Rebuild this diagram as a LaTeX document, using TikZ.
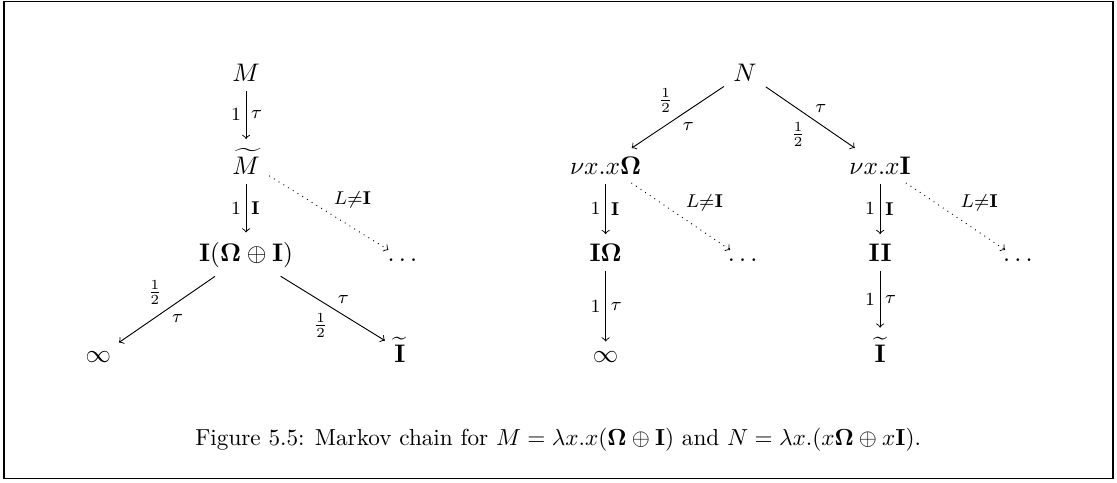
\documentclass[tikz,border=0pt]{standalone}
\usepackage{amsmath,amssymb}
\begin{document}
\begin{tikzpicture}[
    font=\fontsize{10.95}{13.6}\selectfont,
    state/.style={anchor=base, inner sep=3pt},
    lab/.style={inner sep=2pt, execute at begin node=$\scriptstyle, execute at end node=$},
    arr/.style={->, shorten >=1pt, shorten <=1pt},
    dotarr/.style={->, dotted, shorten >=1pt, shorten <=1pt},
    captext/.style={anchor=base, font=\fontsize{10}{12}\selectfont},
]
    \useasboundingbox (0,0) rectangle (16.93,7.31);
    \draw[line width=0.6pt] (0.06,0.06) rectangle (16.87,7.29);

    % ============= chain of M =============
    \node[state] (M) at (3.73, 6.08) {$M$};
    \node[state] (Mt) at (3.73, 4.67) {$\widetilde{M}$};
    \node[state] (ioi) at (3.73, 3.35) {$\mathbf{I}(\mathbf{\Omega}\oplus\mathbf{I})$};
    \node[state] (dotsM) at (6.13, 3.35) {$\dots$};
    \node[state] (infM) at (1.49, 1.82) {$\infty$};
    \node[state] (itM) at (6.06, 1.82) {$\widetilde{\mathbf{I}}$};
    \draw[arr] (M) -- node[lab, left] {1} node[lab, right] {\tau} (Mt);
    \draw[arr] (Mt) -- node[lab, left] {1} node[lab, right] {\mathbf{I}} (ioi);
    \draw[dotarr] (Mt) -- node[lab, above right] {L\neq\mathbf{I}} (dotsM);
    \draw[arr] (ioi) -- node[lab, above left] {\frac{1}{2}} node[lab, below right] {\tau} (infM);
    \draw[arr] (ioi) -- node[lab, above right] {\tau} node[lab, below left] {\frac{1}{2}} (itM);

    % ============= chain of N =============
    \node[state] (N) at (11.29, 6.08) {$N$};
    \node[state] (nuO) at (9.18, 4.67) {$\nu x.x\mathbf{\Omega}$};
    \node[state] (nuI) at (13.34, 4.67) {$\nu x.x\mathbf{I}$};
    \node[state] (IO) at (9.18, 3.35) {$\mathbf{I\Omega}$};
    \node[state] (dotsO) at (11.29, 3.35) {$\dots$};
    \node[state] (II) at (13.34, 3.35) {$\mathbf{II}$};
    \node[state] (dotsI) at (15.46, 3.35) {$\dots$};
    \node[state] (infN) at (9.18, 1.82) {$\infty$};
    \node[state] (itN) at (13.34, 1.82) {$\widetilde{\mathbf{I}}$};
    \draw[arr] (N) -- node[lab, above left] {\frac{1}{2}} node[lab, below right] {\tau} (nuO);
    \draw[arr] (N) -- node[lab, above right] {\tau} node[lab, below left] {\frac{1}{2}} (nuI);
    \draw[arr] (nuO) -- node[lab, left] {1} node[lab, right] {\mathbf{I}} (IO);
    \draw[dotarr] (nuO) -- node[lab, above right] {L\neq\mathbf{I}} (dotsO);
    \draw[arr] (nuI) -- node[lab, left] {1} node[lab, right] {\mathbf{I}} (II);
    \draw[dotarr] (nuI) -- node[lab, above right] {L\neq\mathbf{I}} (dotsI);
    \draw[arr] (IO) -- node[lab, left] {1} node[lab, right] {\tau} (infN);
    \draw[arr] (II) -- node[lab, left] {1} node[lab, right] {\tau} (itN);

    % caption
    \node[captext] (cap) at (8.46, 0.55) {Figure 5.5: Markov chain for $M=\lambda x.x(\mathbf{\Omega}\oplus\mathbf{I})$ and $N=\lambda x.(x\mathbf{\Omega}\oplus x\mathbf{I})$.};
\end{tikzpicture}
\end{document}
